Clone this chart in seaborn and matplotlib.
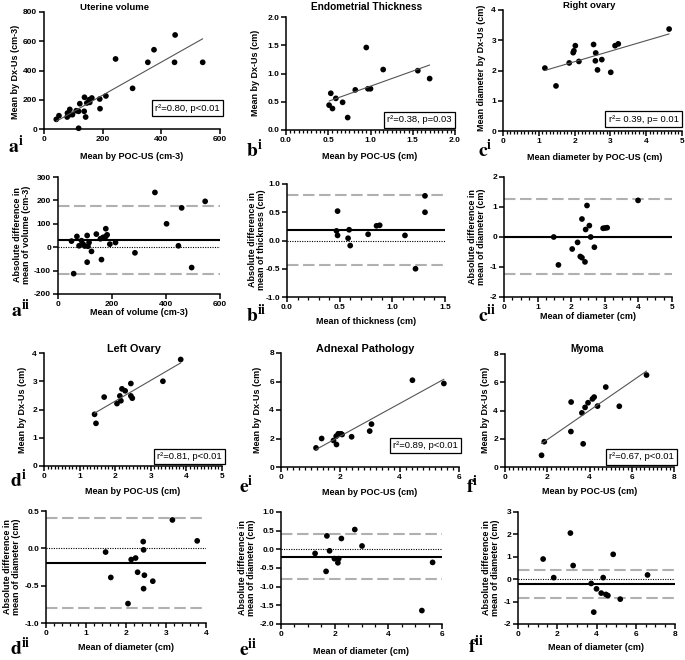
import matplotlib
matplotlib.use("Agg")
import matplotlib.pyplot as plt
import seaborn as sns
from matplotlib.ticker import MultipleLocator, FormatStrFormatter

# ---------------- data ----------------
# a) Uterine volume
uterine_poc = [42, 51, 79, 80, 88, 88, 97, 110, 118, 122, 118, 138, 137, 142, 146, 154, 163, 156, 190, 191, 211, 244, 302, 354, 375, 445, 447, 541]
uterine_dx = [66, 91, 82, 109, 134, 98, 98, 125, 121, 173, 5, 217, 121, 82, 178, 200, 212, 182, 205, 139, 226, 479, 278, 456, 542, 456, 643, 456]
uterine_mean = [50, 70, 78, 87, 93, 99, 108, 111, 115, 124, 108, 58, 142, 157, 167, 177, 177, 182, 192, 213, 161, 285, 402, 359, 458, 446, 495, 545]
uterine_diff = [26, 46, 6, 28, 13, 5, 50, 4, 20, -18, -64, -113, 56, 36, 42, 79, 46, 53, 13, 20, -53, -24, 100, 234, 168, 6, -87, 196]
uterine_lines = [30, 176, -116]          # bias, upper LoA, lower LoA

# b) Endometrial thickness
endo_poc = [0.51, 0.53, 0.55, 0.59, 0.67, 0.73, 0.82, 0.95, 0.97, 1.00, 1.15, 1.56, 1.70]
endo_dx = [0.44, 0.65, 0.38, 0.56, 0.49, 0.22, 0.71, 1.46, 0.73, 0.73, 1.07, 1.05, 0.91]
endo_mean = [0.48, 0.47, 0.48, 0.59, 0.58, 0.60, 0.77, 0.85, 0.88, 1.12, 1.22, 1.31, 1.31]
endo_diff = [0.52, 0.17, 0.09, 0.19, 0.04, -0.09, 0.11, 0.26, 0.27, 0.09, -0.50, 0.79, 0.50]
endo_lines = [0.19, 0.81, -0.44]

# c) Right ovary
rov_poc = [1.17, 1.48, 1.85, 1.96, 1.98, 2.02, 2.12, 2.53, 2.58, 2.59, 2.64, 2.76, 3.01, 3.13, 3.22, 4.64]
rov_dx = [2.08, 1.49, 2.25, 2.59, 2.65, 2.82, 2.30, 2.86, 2.32, 2.58, 2.02, 2.36, 1.94, 2.82, 2.88, 3.37]
rov_mean = [1.48, 1.62, 2.03, 2.19, 2.27, 2.32, 2.32, 2.41, 2.43, 2.47, 2.54, 2.58, 2.69, 2.95, 3.01, 3.07, 3.99]
rov_diff = [0.0, -0.93, -0.40, -0.18, -0.65, -0.69, 0.60, -0.83, 0.25, 1.05, 0.38, 0.0, -0.34, 0.29, 0.30, 0.31, 1.22]
rov_lines = [0.0, 1.25, -1.24]

# d) Left ovary
lov_poc = [1.42, 1.46, 1.69, 2.05, 2.13, 2.16, 2.19, 2.28, 2.44, 2.44, 2.48, 3.34, 3.84]
lov_dx = [1.83, 1.51, 2.44, 2.21, 2.48, 2.31, 2.73, 2.66, 2.92, 2.48, 2.40, 3.00, 3.77]
lov_mean = [1.49, 1.62, 2.05, 2.13, 2.24, 2.29, 2.43, 2.44, 2.46, 2.44, 2.67, 3.16, 3.78]
lov_diff = [-0.05, -0.39, -0.74, -0.15, -0.13, -0.32, 0.09, -0.02, -0.36, -0.54, -0.44, 0.38, 0.10]
lov_lines = [-0.20, 0.40, -0.80]

# e) Adnexal pathology
adn_poc = [1.18, 1.37, 1.77, 1.86, 1.87, 1.93, 2.02, 2.06, 2.38, 2.99, 3.05, 4.43, 5.49]
adn_dx = [1.34, 2.00, 1.86, 2.16, 1.58, 2.33, 2.33, 2.28, 2.12, 2.52, 3.01, 6.09, 5.86]
adn_mean = [1.27, 1.68, 1.71, 1.81, 1.99, 2.12, 2.15, 2.25, 2.75, 3.02, 5.25, 5.65]
adn_diff = [-0.11, -0.59, 0.36, -0.04, -0.25, -0.36, -0.25, 0.29, 0.53, 0.09, -1.64, -0.35]
adn_lines = [-0.20, 0.40, -0.80]

# f) Myoma
myo_poc = [1.73, 1.86, 3.70, 3.12, 3.64, 3.13, 3.79, 3.93, 4.38, 4.14, 4.22, 5.41, 4.77, 6.70]
myo_dx = [0.83, 1.79, 1.64, 2.51, 3.83, 4.60, 4.22, 4.55, 4.31, 4.82, 4.95, 4.30, 5.66, 6.51]
myo_mean = [1.28, 1.82, 2.67, 2.81, 3.73, 3.86, 4.00, 4.24, 4.34, 4.48, 4.58, 4.85, 5.21, 6.60]
myo_diff = [0.90, 0.07, 2.06, 0.61, -0.19, -1.47, -0.43, -0.62, 0.07, -0.68, -0.73, 1.11, -0.89, 0.19]
myo_lines = [-0.22, 0.39, -0.82]

titles = ["Uterine volume", "Endometrial Thickness", "Right ovary", "Left Ovary", "Adnexal Pathology", "Myoma"]
stats_text = ["r\u00b2=0.80, p<0.01", "r\u00b2=0.38, p=0.03", "r\u00b2= 0.39, p= 0.01",
              "r\u00b2=0.81, p<0.01", "r\u00b2=0.89, p<0.01", "r\u00b2=0.67, p<0.01"]

# ---------------- style ----------------
W, H = 685, 660
sns.set_theme(style="ticks")
plt.rcParams.update({
    "font.family": ["Liberation Sans", "DejaVu Sans"],
    "font.weight": "bold",
    "axes.unicode_minus": False,
    "mathtext.fontset": "stix",
    "axes.edgecolor": "black",
    "axes.labelcolor": "black",
    "text.color": "black",
    "xtick.color": "black",
    "ytick.color": "black",
    "axes.linewidth": 1.1,
})

fig = plt.figure(figsize=(W / 100, H / 100), dpi=100)
fig.patch.set_facecolor("white")


def add_ax(l, r, t, b):
    return fig.add_axes([l / W, 1 - b / H, (r - l) / W, (b - t) / H])


def style(ax, xlim, ylim, xmaj, ymaj, xminor=None, xfmt=None, yfmt=None):
    sns.despine(ax=ax)
    ax.set_xlim(*xlim)
    ax.set_ylim(*ylim)
    ax.xaxis.set_major_locator(MultipleLocator(xmaj))
    ax.yaxis.set_major_locator(MultipleLocator(ymaj))
    if xminor:
        ax.xaxis.set_minor_locator(MultipleLocator(xminor))
    if xfmt:
        ax.xaxis.set_major_formatter(FormatStrFormatter(xfmt))
    if yfmt:
        ax.yaxis.set_major_formatter(FormatStrFormatter(yfmt))
    ax.tick_params(which="major", length=3.5, width=1.1, labelsize=6.0, pad=1.5)
    ax.tick_params(which="minor", length=2, width=0.9)
    ax.set_xlabel("")
    ax.set_ylabel("")
    for lbl in ax.get_xticklabels() + ax.get_yticklabels():
        lbl.set_fontweight("bold")


def ftext(x, y, s, **kw):
    fig.text(x / W, 1 - y / H, s, **kw)


def scatter_panel(box, x, y, xlim, ylim, xmaj, ymaj, xminor, xfmt, yfmt, stat, sbox):
    ax = add_ax(*box)
    sns.regplot(x=x, y=y, ax=ax, ci=None, truncate=True,
                scatter_kws={"s": 17, "color": "black", "edgecolor": "none", "clip_on": False, "alpha": 1},
                line_kws={"color": "#555555", "lw": 0.8})
    style(ax, xlim, ylim, xmaj, ymaj, xminor, xfmt, yfmt)
    ax.text(sbox[0], sbox[1], stat, transform=ax.transAxes, ha="right", va="bottom",
            fontsize=6.8, fontweight="normal",
            bbox=dict(boxstyle="square,pad=0.35", fc="white", ec="black", lw=0.9))
    return ax


def ba_panel(box, m, d, lines, xlim, ylim, xmaj, ymaj, xminor, xfmt, yfmt):
    ax = add_ax(*box)
    ax.axhline(0, color="black", lw=0.8, ls=(0, (1, 1.2)), zorder=1)
    ax.axhline(lines[1], color="#b0b0b0", lw=1.5, ls=(0, (5.5, 2.2)), zorder=1)
    ax.axhline(lines[2], color="#b0b0b0", lw=1.5, ls=(0, (5.5, 2.2)), zorder=1)
    ax.axhline(lines[0], color="black", lw=1.5, zorder=2)
    sns.scatterplot(x=m, y=d, ax=ax, color="black", s=17, edgecolor="none", clip_on=False, zorder=3)
    style(ax, xlim, ylim, xmaj, ymaj, xminor, xfmt, yfmt)
    return ax


# ---------------- row 1: scatter a, b, c ----------------
scatter_panel((44, 220, 12, 129), uterine_poc, uterine_dx, (0, 600), (0, 800), 200, 200, None, None, None,
              stats_text[0], (1.0, 0.14))
scatter_panel((286, 455, 17, 130), endo_poc, endo_dx, (0, 2.0), (0, 2.0), 0.5, 0.5, 0.05, "%.1f", "%.1f",
              stats_text[1], (0.98, 0.05))
scatter_panel((503, 682, 10, 131), rov_poc, rov_dx, (0, 5), (0, 4), 1, 1, 0.1, None, None,
              stats_text[2], (0.98, 0.06))

# ---------------- row 2: Bland-Altman a, b, c ----------------
ba_panel((58, 220, 177, 294), uterine_mean, uterine_diff, uterine_lines, (0, 600), (-200, 300), 200, 100, None, None, None)
ba_panel((287, 445, 184, 297), endo_mean, endo_diff, endo_lines, (0, 1.5), (-1.0, 1.0), 0.5, 0.5, 0.1, "%.1f", "%.1f")
ba_panel((504, 672, 177, 297), rov_mean, rov_diff, rov_lines, (0, 5), (-2, 2), 1, 1, 0.25, None, None)

# ---------------- row 3: scatter d, e, f ----------------
scatter_panel((44, 222, 353, 466), lov_poc, lov_dx, (0, 5), (0, 4), 1, 1, 0.1, None, None,
              stats_text[3], (1.0, 0.045))
scatter_panel((281, 459, 353, 467), adn_poc, adn_dx, (0, 6), (0, 8), 2, 2, 0.2, None, None,
              stats_text[4], (0.995, 0.15))
scatter_panel((505, 674, 354, 467), myo_poc, myo_dx, (0, 8), (0, 8), 2, 2, 0.2, None, None,
              stats_text[5], (1.0, 0.05))

# ---------------- row 4: Bland-Altman d, e, f ----------------
ba_panel((46, 206, 511, 623), lov_mean, lov_diff, lov_lines, (0, 4), (-1.0, 0.5), 1, 0.5, 0.2, None, "%.1f")
ba_panel((281, 442, 512, 624), adn_mean, adn_diff, adn_lines, (0, 6), (-2.0, 1.0), 2, 0.5, 0.5, None, "%.1f")
ba_panel((518, 675, 512, 624), myo_mean, myo_diff, myo_lines, (0, 8), (-2, 3), 2, 1, 0.5, None, None)

# ---------------- titles ----------------
title_pos = [(115, 7, 6.8), (367, 7, 7.3), (589, 6, 6.8), (134, 349, 7.8), (365, 349, 7.8), (587, 349, 7.0)]
for t, (cx, cy, fs) in zip(titles, title_pos):
    ftext(cx, cy, t, ha="center", va="center", fontsize=fs, fontweight="bold")

# ---------------- axis labels ----------------
xlabels = [
    (132, 152, "Mean by POC-US (cm-3)"), (370, 152, "Mean by POC-US (cm)"), (595, 153, "Mean diameter by POC-US (cm)"),
    (139, 308, "Mean of volume (cm-3)"), (366, 317, "Mean of thickness (cm)"), (588, 312, "Mean of diameter (cm)"),
    (133, 487, "Mean by POC-US (cm)"), (370, 488, "Mean by POC-US (cm)"), (590, 487, "Mean by POC-US (cm)"),
    (126, 643, "Mean of diameter (cm)"), (361, 647, "Mean of diameter (cm)"), (596, 643, "Mean of diameter (cm)"),
]
for x, y, s in xlabels:
    ftext(x, y, s, ha="center", va="top", fontsize=6.5, fontweight="bold")

ylabels = [
    (16, 72, "Mean by Dx-Us (cm-3)"), (256, 73, "Mean by Dx-Us (cm)"), (482, 68, "Mean diameter by Dx-Us (cm)"),
    (22, 235, "Absolute difference in\nmean of volume (cm-3)"), (257, 240, "Absolute difference in\nmean of thickness (cm)"),
    (477, 237, "Absolute difference in\nmean of diameter (cm)"),
    (23, 410, "Mean by Dx-Us (cm)"), (258, 410, "Mean by Dx-Us (cm)"), (485, 410, "Mean by Dx-Us (cm)"),
    (12, 567, "Absolute difference in\nmean of diameter (cm)"), (247, 568, "Absolute difference in\nmean of diameter (cm)"),
    (491, 568, "Absolute difference in\nmean of diameter (cm)"),
]
for x, y, s in ylabels:
    ftext(x, y, s, ha="center", va="center", rotation=90, fontsize=6.5, fontweight="bold", linespacing=1.05)

# ---------------- panel letters ----------------
panel_labels = [
    (8, 153, "a", "i"), (246, 157, "b", "i"), (478, 157, "c", "i"),
    (11, 317, "a", "ii"), (246, 322, "b", "ii"), (478, 322, "c", "ii"),
    (10, 487, "d", "i"), (239, 493, "e", "i"), (466, 493, "f", "i"),
    (10, 655, "d", "ii"), (239, 656, "e", "ii"), (468, 653, "f", "ii"),
]
for x, y, letter, sup in panel_labels:
    ftext(x, y, r"$\mathbf{%s}^{\mathbf{%s}}$" % (letter, sup), ha="left", va="baseline", fontsize=14)

fig.savefig("out.png", dpi=100, facecolor="white")
